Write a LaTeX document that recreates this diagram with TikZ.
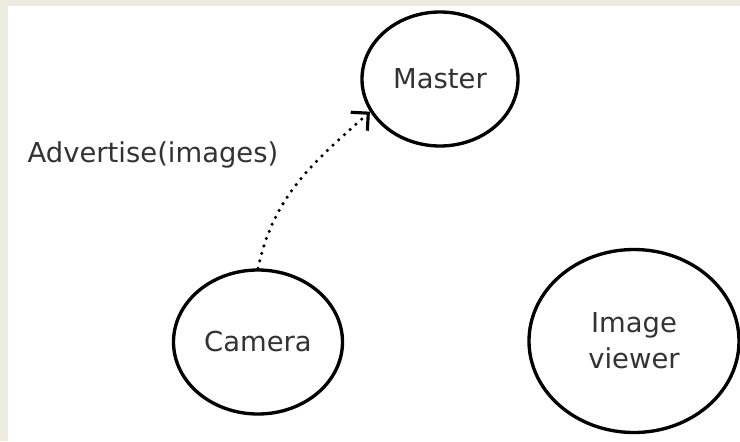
\documentclass[tikz,border=0pt]{standalone}
\usepackage{fontspec}
\setmainfont{DejaVu Sans}
\usetikzlibrary{arrows.meta,shapes.geometric}
\definecolor{frame}{RGB}{237,234,222}
\definecolor{ink}{RGB}{51,51,51}
\begin{document}
\begin{tikzpicture}[
        every node/.style={font=\fontsize{15.6}{20.5}\selectfont, text=ink},
        process/.style={ellipse, draw, line width=1.9pt, inner sep=0pt, align=center},
        message/.style={-{Straight Barb[angle=90:10pt,line width=1.8pt]}, line width=2pt, line cap=round, dash pattern=on 0pt off 4.4pt}
    ]

        % Fondo
        \fill[frame] (0,0) rectangle (14.8,8.82);
        \fill[white] (0.16,0) rectangle (14.8,8.70);
        \useasboundingbox (0,0) rectangle (14.8,8.82);

        % Procesos
        \node[process, minimum width=3.12cm, minimum height=2.68cm] (master) at (8.80,7.24) {Master};
        \node[process, minimum width=3.38cm, minimum height=2.88cm] (camera) at (5.16,1.98) {Camera};
        \node[process, minimum width=4.2cm, minimum height=3.66cm] (viewer) at (12.68,2.00) {Image\\viewer};

        % Mensajes
        \draw[message] (camera.north) to[out=78,in=222] (master.205);

        % Etiquetas
        \node (advertise) at (3.06,5.72) {Advertise(images)};

    \end{tikzpicture}
\end{document}
